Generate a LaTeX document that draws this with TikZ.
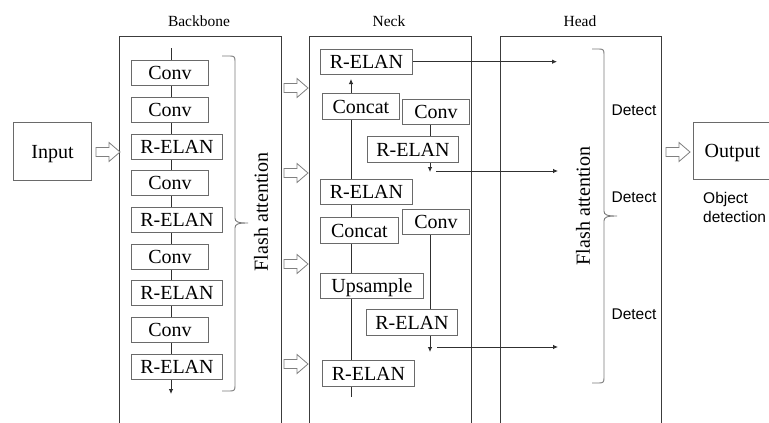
\documentclass[tikz,border=0pt]{standalone}
\usepackage{fontspec}
\setmainfont{Liberation Serif}
\newfontfamily\boxserif{Liberation Serif}
\newfontfamily\detfont{Liberation Sans}
\usetikzlibrary{arrows.meta,backgrounds}
\definecolor{panelc}{HTML}{3C3C3C}
\definecolor{boxc}{HTML}{6A6A6A}
\definecolor{connc}{HTML}{303030}
\definecolor{bracec}{HTML}{7A7A7A}
\definecolor{hollowc}{HTML}{808080}
\newcommand\bxfont{\boxserif\fontsize{20}{24}\selectfont}
\newcommand\ttlfont{\boxserif\fontsize{15.5}{18}\selectfont}
\newcommand\dtfont{\detfont\fontsize{15.5}{18}\selectfont}
\tikzset{
  blk/.style={draw=boxc, fill=white, line width=0.9pt, inner sep=0pt,
    minimum height=24.5pt, text height=15pt, text depth=1pt, font=\bxfont, anchor=north west},
  bigbox/.style={draw=boxc, fill=white, line width=0.9pt, inner sep=0pt,
    text height=15pt, text depth=1pt, font=\bxfont, anchor=north west},
  panel/.style={draw=panelc, line width=0.9pt},
  conn/.style={draw=connc, line width=0.8pt},
  endarr/.style={-{Latex[length=5pt,width=4.5pt]}},
  bracepath/.style={draw=bracec, line width=0.9pt},
  ttl/.style={font=\ttlfont, inner sep=0pt},
  fa/.style={rotate=90, font=\bxfont, inner sep=0pt},
  det/.style={font=\dtfont, inner sep=0pt},
  harrow/.pic={\draw[draw=hollowc, fill=white, line width=0.8pt, line join=miter]
    (0,-4.5) -- (13,-4.5) -- (13,-9.5) -- (24,0) -- (13,9.5) -- (13,4.5) -- (0,4.5) -- cycle;}
}
\begin{document}
\begin{tikzpicture}[x=1pt,y=-1pt]
\useasboundingbox (0,0) rectangle (769,423);
\clip (0,0) rectangle (769,423);
\begin{pgfonlayer}{background}
\fill[white] (0,0) rectangle (769,423);
\end{pgfonlayer}

% panels (open at the bottom)
\draw[panel] (119,430) -- (119,36) -- (281,36) -- (281,430);
\draw[panel] (309,430) -- (309,36) -- (471,36) -- (471,430);
\draw[panel] (500,430) -- (500,36) -- (661,36) -- (661,430);

% titles
\node[ttl] (tbb) at (199,21) {Backbone};
\node[ttl] (tnk) at (389,21) {Neck};
\node[ttl] (thd) at (580,21) {Head};

% input / output
\node[bigbox, minimum width=78pt, minimum height=58pt] (inp) at (13,122) {Input};
\node[bigbox, minimum width=78pt, minimum height=57pt] (outp) at (693,122) {Output};
\node[det, anchor=base west] (od1) at (703,203) {Object};
\node[det, anchor=base west] (od2) at (703,222) {detection};

% hollow arrows
\pic at (96,152) {harrow};
\pic at (284,88) {harrow};
\pic at (284,173) {harrow};
\pic at (284,264) {harrow};
\pic at (284,364) {harrow};
\pic at (666,152) {harrow};

% backbone blocks
\node[blk, minimum width=77pt] (b1) at (131,60) {Conv};
\node[blk, minimum width=77pt] (b2) at (131,97) {Conv};
\node[blk, minimum width=91pt] (b3) at (131,134) {R-ELAN};
\node[blk, minimum width=77pt] (b4) at (131,170) {Conv};
\node[blk, minimum width=91pt] (b5) at (131,207) {R-ELAN};
\node[blk, minimum width=77pt] (b6) at (131,244) {Conv};
\node[blk, minimum width=91pt] (b7) at (131,280) {R-ELAN};
\node[blk, minimum width=77pt] (b8) at (131,317) {Conv};
\node[blk, minimum width=91pt] (b9) at (131,354) {R-ELAN};

% neck blocks
\node[blk, minimum width=92pt] (n1) at (320,49) {R-ELAN};
\node[blk, minimum width=77pt, minimum height=26pt] (n2) at (322,93) {Concat};
\node[blk, minimum width=67pt] (n3) at (402,99) {Conv};
\node[blk, minimum width=91pt, minimum height=26pt] (n4) at (367,136) {R-ELAN};
\node[blk, minimum width=92pt] (n5) at (320,179) {R-ELAN};
\node[blk, minimum width=67pt] (n6) at (402,209) {Conv};
\node[blk, minimum width=78pt, minimum height=26pt] (n7) at (320,217) {Concat};
\node[blk, minimum width=103pt] (n8) at (320,273) {Upsample};
\node[blk, minimum width=91pt, minimum height=26pt] (n9) at (366,309) {R-ELAN};
\node[blk, minimum width=92pt, minimum height=26pt] (n10) at (322,360) {R-ELAN};

% flash attention labels and braces
\node[fa] (fa1) at (261,212) {Flash attention};
\node[fa] (fa2) at (583,206) {Flash attention};
\draw[bracepath] (222,56) -- (230,56) .. controls (234,56) and (235,57) .. (235,61)
  -- (235,218) .. controls (235,222) and (238,223) .. (248,223)
  .. controls (238,223) and (235,224) .. (235,228)
  -- (235,386) .. controls (235,390) and (234,391) .. (230,391) -- (222,391);
\draw[bracepath] (592,49) -- (599,49) .. controls (603,49) and (604,50) .. (604,54)
  -- (604,211) .. controls (604,215) and (607,216) .. (617,216)
  .. controls (607,216) and (604,217) .. (604,221)
  -- (604,378) .. controls (604,382) and (603,383) .. (599,383) -- (592,383);

% detect labels
\node[det] (d1) at (634,110) {Detect};
\node[det] (d2) at (634,197) {Detect};
\node[det] (d3) at (634,314) {Detect};

% connector coordinates
\coordinate (bbtop) at (171,48);
\coordinate (bbend) at (171,394);
\coordinate (nx) at (351,0);
\coordinate (nend) at (351,397);
\coordinate (uptip) at (351,79);
\coordinate (rx) at (430,0);
\coordinate (rt1) at (430,172);
\coordinate (rt2) at (430,352);
\coordinate (hx) at (557,0);
\coordinate (h1s) at (436,171);
\coordinate (h1e) at (558,171);
\coordinate (h2s) at (437,347);
\coordinate (h2e) at (558,347);

\begin{pgfonlayer}{background}
\draw[conn, endarr] (bbtop) -- (bbend);
\draw[conn] (n2.south -| nx) -- (nend);
\draw[conn, endarr] (n2.north -| nx) -- (uptip);
\draw[conn, endarr] (n3.south -| rx) -- (rt1);
\draw[conn, endarr] (n6.south -| rx) -- (rt2);
\end{pgfonlayer}
\draw[conn, endarr] (n1.east) -- (n1.east -| hx);
\draw[conn, endarr] (h1s) -- (h1e);
\draw[conn, endarr] (h2s) -- (h2e);
\end{tikzpicture}
\end{document}
